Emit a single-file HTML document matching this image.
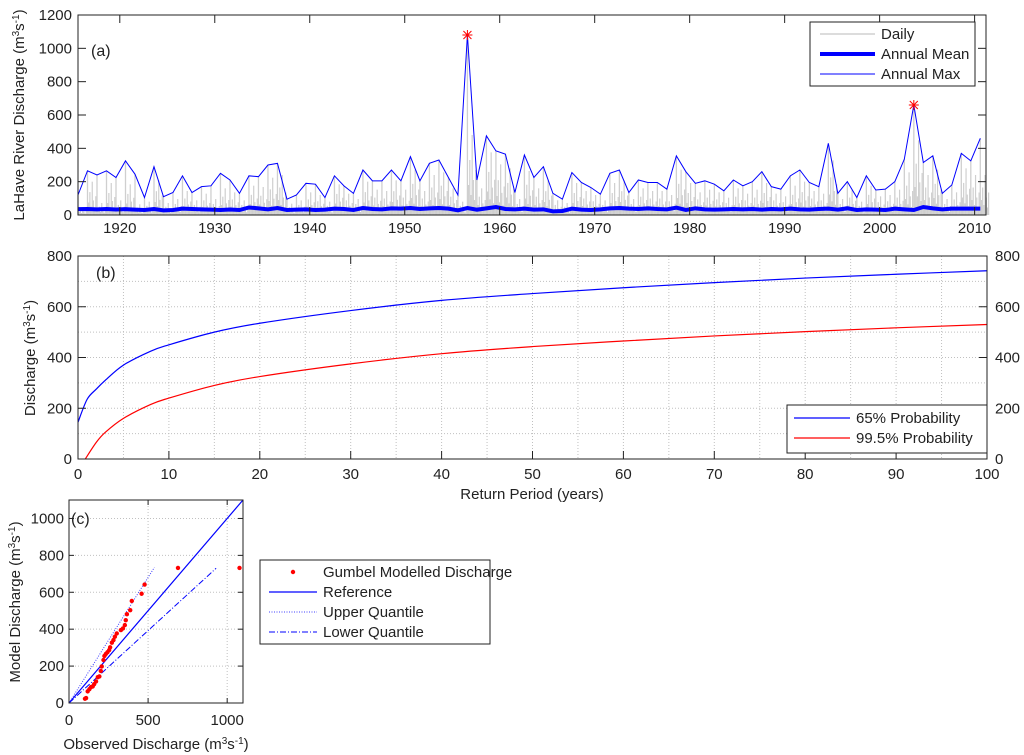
<!DOCTYPE html>
<html><head><meta charset="utf-8"><style>
body{margin:0;background:#fff}
svg{display:block;font-family:"Liberation Sans",Arial,sans-serif}
</style></head><body>
<svg id="fig" width="1024" height="755" viewBox="0 0 1024 755">
<rect width="1024" height="755" fill="#fff"/>
<g id="pa"></g>
<g id="pb"></g>
<g id="pc"></g>
</svg>
<script>
// ---- Panel (a) data ----
const aYears0 = 1916;
const annualMax = [120,265,240,265,225,325,245,105,290,110,135,235,135,170,175,250,210,130,235,230,300,310,95,120,190,185,105,235,175,130,270,205,205,270,205,350,205,310,330,225,120,1080,210,475,385,365,135,360,225,290,130,95,255,195,165,125,250,270,135,210,195,195,155,355,260,190,205,185,145,210,175,200,260,170,155,235,270,195,170,430,130,200,105,235,150,155,200,335,660,315,355,130,180,370,325,460];
const annualMean = [35,36,34,36,33,35,32,30,36,28,30,38,36,34,32,30,33,30,45,40,34,42,30,32,34,30,32,38,36,30,42,36,34,40,38,42,36,40,42,38,28,42,32,40,48,36,34,38,32,34,22,24,38,32,30,34,40,42,38,36,40,36,34,44,30,40,34,32,34,36,34,36,32,36,34,38,34,32,36,38,32,40,30,34,32,30,38,34,30,48,40,34,38,38,38,38];
const dailySecondary = [60,250,90,240,110,230,80,100,260,90,120,180,110,160,120,200,170,110,220,210,280,300,85,110,170,150,100,230,160,120,250,190,180,260,190,340,180,300,320,200,100,600,200,470,380,350,120,330,200,260,110,90,240,180,150,110,240,260,120,200,180,180,150,340,240,170,190,170,130,200,160,190,240,160,140,220,250,180,160,410,120,190,100,220,140,150,190,320,560,300,340,120,170,350,300,300];
const aXTicks = [1920,1930,1940,1950,1960,1970,1980,1990,2000,2010];
const aYTicks = [0,200,400,600,800,1000,1200];
// ---- Panel (b) data ----
const retBlue = [0,1,2,3,5,8,10,15,20,30,40,50,60,70,80,90,100];
const qBlue = [145,235,275,310,370,425,450,500,535,585,625,652,675,695,713,728,742];
const retRed = [0.8,2,3,5,8,10,15,20,30,40,50,60,70,80,90,100];
const qRed = [0,65,105,160,215,240,290,325,375,415,443,465,485,502,517,530];
const bXTicks = [0,10,20,30,40,50,60,70,80,90,100];
const bYTicks = [0,200,400,600,800];
// ---- Panel (c) data ----
const obsQ = [101,108,118,129,139,150,159,171,182,192,201,207,218,224,233,243,254,260,271,281,290,302,328,341,353,359,366,387,397,459,478,689,1078];
const modQ = [23,27,63,75,86,90,102,117,140,144,174,198,233,255,266,275,287,302,327,341,359,377,395,404,422,449,481,503,553,592,642,732,732];
const upperQ = [[0,0],[540,735]];
const lowerQ = [[0,0],[930,730]];
const refQ = [[0,0],[1100,1100]];
const cTicks = [0,500,1000];
const cYTicks = [0,200,400,600,800,1000];

const NS="http://www.w3.org/2000/svg";
function mk(p,tag,at,txt){const e=document.createElementNS(NS,tag);for(const k in at)e.setAttribute(k,at[k]);if(txt!==undefined)e.textContent=txt;p.appendChild(e);return e;}
function smooth(pts){let d="M"+pts[0][0]+","+pts[0][1];for(let i=0;i<pts.length-1;i++){const p0=pts[Math.max(0,i-1)],p1=pts[i],p2=pts[i+1],p3=pts[Math.min(pts.length-1,i+2)];const c1=[p1[0]+(p2[0]-p0[0])/6,p1[1]+(p2[1]-p0[1])/6],c2=[p2[0]-(p3[0]-p1[0])/6,p2[1]-(p3[1]-p1[1])/6];d+=" C"+c1+" "+c2+" "+p2;}return d;}
const UNIT='(m<tspan dy="-5" font-size="10">3</tspan><tspan dy="5">s</tspan><tspan dy="-5" font-size="10">-1</tspan><tspan dy="5">)</tspan>';

// ===== Panel A =====
const A=document.getElementById('pa');
const aL=78,aR=986,aT=15,aB=215;
const ax=y=>aL+(y-0.4-1915.6)/(2011.2-1915.6)*(aR-aL);
const ay=v=>aB-v/1200*(aB-aT);
const spikeFrac=[1,0.3,0.55,0.2,0.8,0.35,0.15,0.45];
for(let i=0;i<annualMax.length;i++){
 const yr=aYears0+i;
 let l=mk(A,'line',{x1:ax(yr),x2:ax(yr),y1:ay(0),y2:ay(annualMax[i]),stroke:'#cfcfcf','stroke-width':1.3});
 
 
 for(let k=1;k<spikeFrac.length;k++){
  let l2=mk(A,'line',{x1:ax(yr+k/spikeFrac.length),x2:ax(yr+k/spikeFrac.length),y1:ay(0),y2:ay(dailySecondary[i]*spikeFrac[k]),stroke:'#cfcfcf','stroke-width':1.2});
  
  
 }
}
let pm=annualMean.map((v,i)=>ax(aYears0+i)+","+ay(v)).join(" ");
let meanL=mk(A,'polyline',{points:pm,fill:'none',stroke:'#0000ff','stroke-width':4});


let px=annualMax.map((v,i)=>ax(aYears0+i)+","+ay(v)).join(" ");
let maxL=mk(A,'polyline',{points:px,fill:'none',stroke:'#0000ff','stroke-width':1});


[annualMax.indexOf(Math.max(...annualMax))].concat([annualMax.map((v,i)=>[v,i]).sort((a,b)=>b[0]-a[0])[1][1]]).forEach(i=>{
 const cx=ax(aYears0+i),cy=ay(annualMax[i]);
 const g=mk(A,'g',{stroke:'#ff0000','stroke-width':1});
 
 
 mk(g,'line',{x1:cx-5,x2:cx+5,y1:cy,y2:cy});mk(g,'line',{x1:cx,x2:cx,y1:cy-5,y2:cy+5});
 mk(g,'line',{x1:cx-4,x2:cx+4,y1:cy-4,y2:cy+4});mk(g,'line',{x1:cx-4,x2:cx+4,y1:cy+4,y2:cy-4});
});
mk(A,'rect',{x:aL,y:aT,width:aR-aL,height:aB-aT,fill:'none',stroke:'#222','stroke-width':1});
aXTicks.forEach(t=>{const x=ax(t+0.4);mk(A,'line',{x1:x,x2:x,y1:aB,y2:aB-8,stroke:'#222'});mk(A,'line',{x1:x,x2:x,y1:aT,y2:aT+8,stroke:'#222'});
 let e=mk(A,'text',{x:x,y:aB+18,'font-size':15,'text-anchor':'middle',fill:'#222'},t);});
aYTicks.forEach(t=>{const y=ay(t);mk(A,'line',{x1:aL,x2:aL+8,y1:y,y2:y,stroke:'#222'});mk(A,'line',{x1:aR,x2:aR-8,y1:y,y2:y,stroke:'#222'});
 let e=mk(A,'text',{x:aL-6,y:y+5,'font-size':15,'text-anchor':'end',fill:'#222'},t);});
let ylA=mk(A,'text',{transform:'translate(24,115) rotate(-90)','font-size':15,'text-anchor':'middle',fill:'#222'});
ylA.innerHTML='LaHave River Discharge '+UNIT;

let la=mk(A,'text',{x:91,y:56,'font-size':16,fill:'#222'},'(a)');
const lgA=mk(A,'g',{});
mk(lgA,'rect',{x:810,y:22,width:165,height:64,fill:'#fff',stroke:'#222'});
[['Daily','#c8c8c8',1.2],['Annual Mean','#0000ff',4],['Annual Max','#0000ff',1]].forEach((r,i)=>{const y=34+i*20;
 mk(lgA,'line',{x1:820,x2:875,y1:y,y2:y,stroke:r[1],'stroke-width':r[2]});
 let e=mk(lgA,'text',{x:881,y:y+5,'font-size':15,fill:'#222'},r[0]);});

// ===== Panel B =====
const B=document.getElementById('pb');
const bL=78,bR=987,bT=256,bB=459;
const bx=t=>bL+t/100*(bR-bL), by=v=>bB-v/800*(bB-bT);
for(let t=5;t<100;t+=5)mk(B,'line',{x1:bx(t),x2:bx(t),y1:bT,y2:bB,stroke:'#c0c0c0','stroke-dasharray':'1,2'});
for(let v=100;v<800;v+=100)mk(B,'line',{x1:bL,x2:bR,y1:by(v),y2:by(v),stroke:'#c0c0c0','stroke-dasharray':'1,2'});
let cb=mk(B,'path',{d:smooth(retBlue.map((t,i)=>[bx(t),by(qBlue[i])])),fill:'none',stroke:'#0000ff','stroke-width':1.2});

let cr=mk(B,'path',{d:smooth(retRed.map((t,i)=>[bx(t),by(qRed[i])])),fill:'none',stroke:'#ff0000','stroke-width':1.2});

mk(B,'rect',{x:bL,y:bT,width:bR-bL,height:bB-bT,fill:'none',stroke:'#222'});
bXTicks.forEach(t=>{const x=bx(t);mk(B,'line',{x1:x,x2:x,y1:bB,y2:bB-8,stroke:'#222'});mk(B,'line',{x1:x,x2:x,y1:bT,y2:bT+8,stroke:'#222'});
 let e=mk(B,'text',{x:x,y:bB+20,'font-size':15,'text-anchor':'middle',fill:'#222'},t);});
bYTicks.forEach(t=>{const y=by(t);mk(B,'line',{x1:bL,x2:bL+8,y1:y,y2:y,stroke:'#222'});mk(B,'line',{x1:bR,x2:bR-8,y1:y,y2:y,stroke:'#222'});
 let e=mk(B,'text',{x:bL-6,y:y+5,'font-size':15,'text-anchor':'end',fill:'#222'},t);
 let e2=mk(B,'text',{x:bR+8,y:y+5,'font-size':15,'text-anchor':'start',fill:'#222'},t);});
let ylB=mk(B,'text',{transform:'translate(35,358) rotate(-90)','font-size':15,'text-anchor':'middle',fill:'#222'});
ylB.innerHTML='Discharge '+UNIT;

let xlB=mk(B,'text',{x:532,y:499,'font-size':15,'text-anchor':'middle',fill:'#222'},'Return Period (years)');
let lb=mk(B,'text',{x:96,y:278,'font-size':16,fill:'#222'},'(b)');
const lgB=mk(B,'g',{});
mk(lgB,'rect',{x:787,y:405,width:200,height:48,fill:'#fff',stroke:'#222'});
[['65% Probability','#0000ff'],['99.5% Probability','#ff0000']].forEach((r,i)=>{const y=418+i*20;
 mk(lgB,'line',{x1:794,x2:850,y1:y,y2:y,stroke:r[1],'stroke-width':1.2});
 let e=mk(lgB,'text',{x:856,y:y+5,'font-size':15,fill:'#222'},r[0]);});

// ===== Panel C =====
const C=document.getElementById('pc');
const cL=69,cR=243,cT=500,cB=703;
const cx=v=>cL+v/1100*(cR-cL), cy=v=>cB-v/1100*(cB-cT);
[500,1000].forEach(t=>mk(C,'line',{x1:cx(t),x2:cx(t),y1:cT,y2:cB,stroke:'#c0c0c0','stroke-dasharray':'1,2'}));
[200,400,600,800,1000].forEach(t=>mk(C,'line',{x1:cL,x2:cR,y1:cy(t),y2:cy(t),stroke:'#c0c0c0','stroke-dasharray':'1,2'}));
let rl=mk(C,'line',{x1:cx(refQ[0][0]),y1:cy(refQ[0][1]),x2:cx(refQ[1][0]),y2:cy(refQ[1][1]),stroke:'#0000ff','stroke-width':1.2});

let ul=mk(C,'line',{x1:cx(upperQ[0][0]),y1:cy(upperQ[0][1]),x2:cx(upperQ[1][0]),y2:cy(upperQ[1][1]),stroke:'#4040ff','stroke-width':1,'stroke-dasharray':'1,1.5'});

let ll=mk(C,'line',{x1:cx(lowerQ[0][0]),y1:cy(lowerQ[0][1]),x2:cx(lowerQ[1][0]),y2:cy(lowerQ[1][1]),stroke:'#0000ff','stroke-width':1,'stroke-dasharray':'6,2,1,2'});

obsQ.forEach((o,i)=>{let d=mk(C,'circle',{cx:cx(o),cy:cy(modQ[i]),r:2.2,fill:'#ff0000'});});
mk(C,'rect',{x:cL,y:cT,width:cR-cL,height:cB-cT,fill:'none',stroke:'#222'});
cTicks.forEach(t=>{const x=cx(t);mk(C,'line',{x1:x,x2:x,y1:cB,y2:cB-5,stroke:'#222'});mk(C,'line',{x1:x,x2:x,y1:cT,y2:cT+5,stroke:'#222'});
 let e=mk(C,'text',{x:x,y:cB+22,'font-size':15,'text-anchor':'middle',fill:'#222'},t);});
cYTicks.forEach(t=>{const y=cy(t);mk(C,'line',{x1:cL,x2:cL+5,y1:y,y2:y,stroke:'#222'});mk(C,'line',{x1:cR,x2:cR-5,y1:y,y2:y,stroke:'#222'});
 let e=mk(C,'text',{x:cL-5,y:y+5,'font-size':15,'text-anchor':'end',fill:'#222'},t);});
let ylC=mk(C,'text',{transform:'translate(20,602) rotate(-90)','font-size':15,'text-anchor':'middle',fill:'#222'});
ylC.innerHTML='Model Discharge '+UNIT;

let xlC=mk(C,'text',{x:156,y:749,'font-size':15,'text-anchor':'middle',fill:'#222'});
xlC.innerHTML='Observed Discharge '+UNIT;

let lc=mk(C,'text',{x:71,y:524,'font-size':16,fill:'#222'},'(c)');
const lgC=mk(C,'g',{});
mk(lgC,'rect',{x:260,y:560,width:230,height:84,fill:'#fff',stroke:'#222'});
mk(lgC,'circle',{cx:293,cy:572,r:2.2,fill:'#ff0000'});
mk(lgC,'line',{x1:269,x2:317,y1:592,y2:592,stroke:'#0000ff','stroke-width':1.2});
mk(lgC,'line',{x1:269,x2:317,y1:612,y2:612,stroke:'#4040ff','stroke-dasharray':'1,1.5'});
mk(lgC,'line',{x1:269,x2:317,y1:632,y2:632,stroke:'#0000ff','stroke-dasharray':'6,2,1,2'});
['Gumbel Modelled Discharge','Reference','Upper Quantile','Lower Quantile'].forEach((s,i)=>{let e=mk(lgC,'text',{x:323,y:577+i*20,'font-size':15,fill:'#222'},s);});
</script>
</body></html>
